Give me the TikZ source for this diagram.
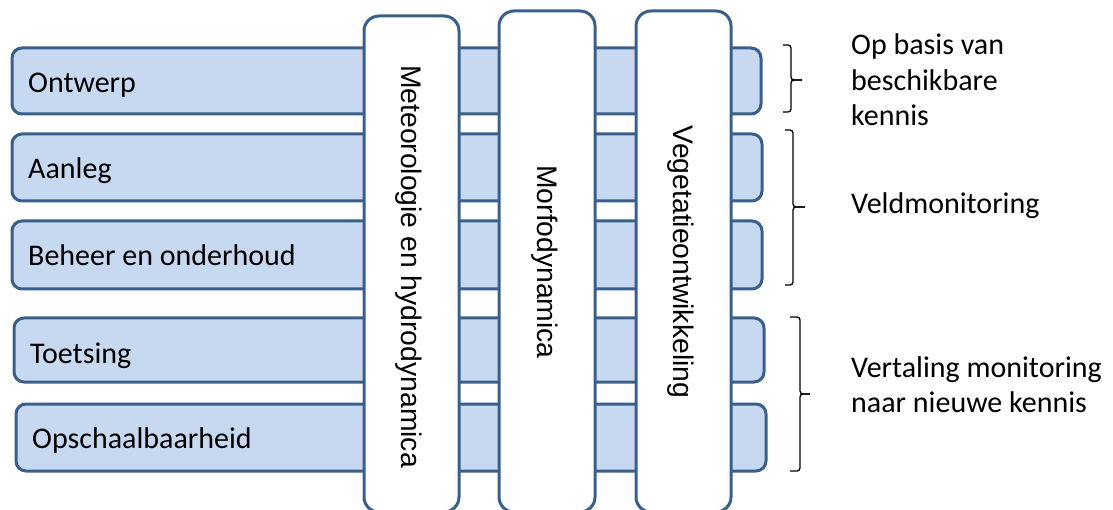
\documentclass[tikz,border=0pt]{standalone}
\usepackage{fontspec}
\setmainfont{Carlito}
\newfontfamily\arialfont{Liberation Sans}
\definecolor{frameblue}{HTML}{3A5F8B}
\definecolor{barfill}{HTML}{C6D9F1}
\begin{document}
\begin{tikzpicture}[x=1pt,y=-1pt,
  phasebar/.style={draw=frameblue, line width=3pt, fill=barfill, rounded corners=10pt, inner sep=0pt},
  themecol/.style={draw=frameblue, line width=3pt, fill=white, rounded corners=15pt, inner sep=0pt},
  phaselabel/.style={anchor=base west, inner sep=0pt, font=\fontsize{30}{36}\selectfont},
  themelabel/.style={anchor=base, rotate=-90, inner sep=0pt, font=\arialfont\fontsize{28.3}{34}\selectfont},
  sidelabel/.style={anchor=west, inner sep=0pt, align=left, font=\fontsize{30}{35.5}\selectfont},
  bracket/.style={draw=black, line width=1.3pt, rounded corners=3pt}]
\useasboundingbox (0,0) rectangle (1113,510);

% project phases (horizontal bars)
\node[phasebar, minimum width=749pt, minimum height=66pt] (r1) at (386.5,81) {};
\node[phasebar, minimum width=750pt, minimum height=67pt] (r2) at (387,167.5) {};
\node[phasebar, minimum width=750pt, minimum height=68pt] (r3) at (387,255) {};
\node[phasebar, minimum width=750pt, minimum height=64pt] (r4) at (389,350) {};
\node[phasebar, minimum width=750pt, minimum height=67pt] (r5) at (391,437.5) {};

\node[phaselabel] (t1) at (28,93) {Ontwerp};
\node[phaselabel] (t2) at (28,179) {Aanleg};
\node[phaselabel] (t3) at (28,266) {Beheer en onderhoud};
\node[phaselabel] (t4) at (30,363) {Toetsing};
\node[phaselabel] (t5) at (32,448) {Opschaalbaarheid};

% research themes (vertical columns running off the bottom edge)
\begin{scope}
\clip (0,0) rectangle (1113,510);
\node[themecol, minimum width=95pt, minimum height=496pt] (c1) at (411.5,264) {};
\node[themecol, minimum width=96pt, minimum height=501pt] (c2) at (547,261.5) {};
\node[themecol, minimum width=95pt, minimum height=501pt] (c3) at (683.5,261.5) {};
\end{scope}

\node[themelabel] (m1) at (401,266.5) {Meteorologie en hydrodynamica};
\node[themelabel] (m2) at (537,262) {Morfodynamica};
\node[themelabel] (m3) at (673,262) {Vegetatieontwikkeling};

% brackets grouping the phases
\coordinate (b1) at (802,80);
\coordinate (b2) at (805,207);
\coordinate (b3) at (810,394);
\draw[bracket] (783,45) -- (791,45) -- (791,80) -- (b1);
\draw[bracket] (b1) -- (791,80) -- (791,112) -- (783,112);
\draw[bracket] (785,130) -- (793,130) -- (793,207) -- (b2);
\draw[bracket] (b2) -- (793,207) -- (793,285) -- (785,285);
\draw[bracket] (790,317) -- (800,317) -- (800,394) -- (b3);
\draw[bracket] (b3) -- (800,394) -- (800,471) -- (790,471);

\node[sidelabel] (s1) at (851,80) {Op basis van\\beschikbare\\kennis};
\node[sidelabel, anchor=base west] (s2) at (851,214) {Veldmonitoring};
\node[sidelabel] (s3) at (851,384.5) {Vertaling monitoring\\naar nieuwe kennis};
\end{tikzpicture}
\end{document}
